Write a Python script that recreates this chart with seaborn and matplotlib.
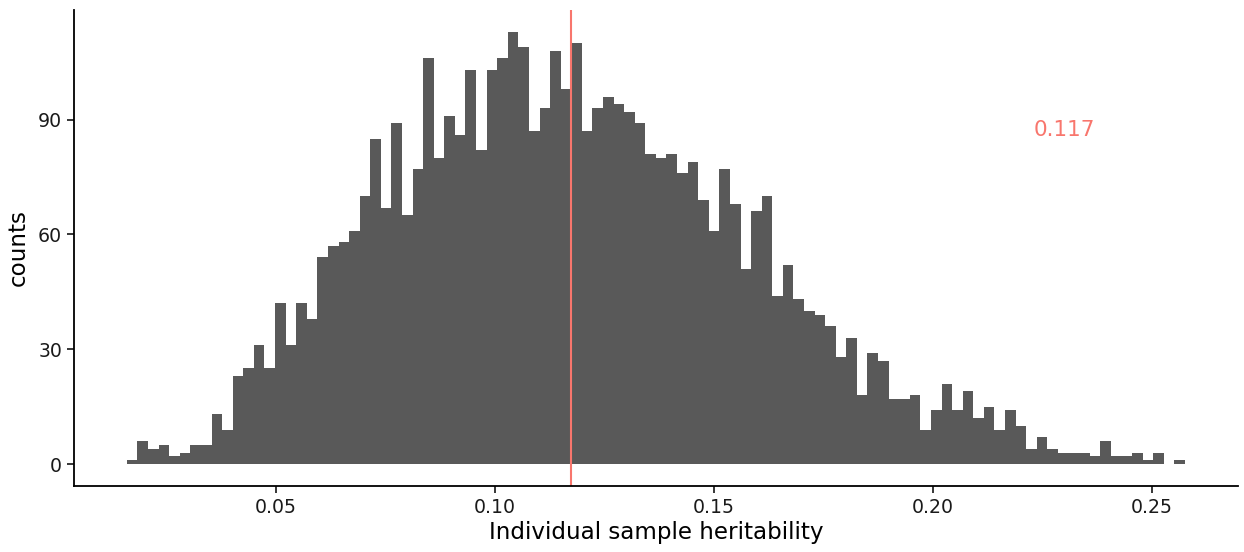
import numpy as np
import pandas as pd
import matplotlib
matplotlib.use("Agg")
import matplotlib.pyplot as plt
import seaborn as sns

# ---- data ----
counts = [1, 6, 4, 5, 2, 3, 5, 5, 13, 9,
          23, 25, 31, 25, 42, 31, 42, 38, 54, 57,
          58, 61, 70, 85, 67, 89, 65, 77, 106, 80,
          91, 86, 103, 82, 103, 106, 113, 109, 87, 93,
          108, 98, 110, 87, 93, 96, 94, 92, 89, 81,
          80, 81, 76, 79, 69, 61, 77, 68, 51, 66,
          70, 44, 52, 43, 40, 39, 36, 28, 33, 18,
          29, 27, 17, 17, 18, 9, 14, 21, 14, 19,
          12, 15, 9, 14, 10, 4, 7, 4, 3, 3,
          3, 2, 6, 2, 2, 3, 1, 3, 0, 1]
bin_start = 0.0160
bin_end = 0.25746
median_value = 0.1173
label_text = "0.117"
label_pos = (0.2300, 87.3)
x_ticks = [0.05, 0.10, 0.15, 0.20, 0.25]
x_tick_labels = ["0.05", "0.10", "0.15", "0.20", "0.25"]
y_ticks = [0, 30, 60, 90]

edges = np.linspace(bin_start, bin_end, len(counts) + 1)
centers = (edges[:-1] + edges[1:]) / 2
df = pd.DataFrame({"h": centers, "n": np.array(counts, dtype=float)})

sns.set_theme(style="ticks")
plt.rcParams["font.family"] = ["DejaVu Sans"]

fig = plt.figure(figsize=(12.44, 5.52), dpi=100)
ax = fig.add_axes([0.0595, 0.1201, 0.9355, 0.862])

sns.histplot(data=df, x="h", weights="n", bins=list(edges), ax=ax,
             color="#595959", alpha=1.0, linewidth=0, element="bars")

ax.axvline(median_value, color="#F8766D", linewidth=1.5)
ax.text(label_pos[0], label_pos[1], label_text, color="#F8766D",
        fontsize=15.5, ha="center", va="center", fontweight="medium")

rng = bin_end - bin_start
ax.set_xlim(bin_start - 0.05 * rng, bin_end + 0.05 * rng)
ymax = max(counts)
ax.set_ylim(-0.05 * ymax, ymax * 1.05)

ax.set_xticks(x_ticks)
ax.set_xticklabels(x_tick_labels)
ax.set_yticks(y_ticks)
ax.tick_params(axis="both", labelsize=13.6, length=5, width=1.1,
               colors="black", labelcolor="#1a1a1a")
ax.set_xlabel("Individual sample heritability", fontsize=16.6, color="black", labelpad=3)
ax.set_ylabel("counts", fontsize=16.6, color="black", labelpad=6)

for s in ["top", "right"]:
    ax.spines[s].set_visible(False)
for s in ["left", "bottom"]:
    ax.spines[s].set_linewidth(1.3)
    ax.spines[s].set_color("black")

fig.savefig("out.png", dpi=100)
